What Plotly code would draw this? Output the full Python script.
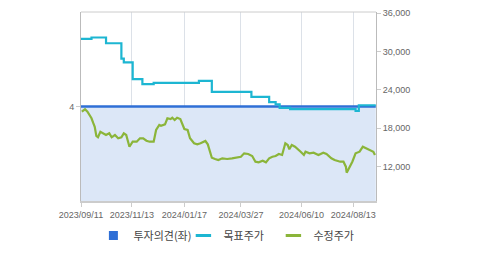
import plotly.graph_objects as go

# ---- data ----
opinion_dates = ["2023-09-11", "2024-09-10"]
opinion_values = [4, 4]

target_dates = ["2023-09-11", "2023-09-24", "2023-10-12", "2023-10-31", "2023-11-03",
                "2023-11-14", "2023-11-26", "2023-12-10", "2024-02-04", "2024-02-20",
                "2024-04-09", "2024-05-01", "2024-05-09", "2024-05-14", "2024-05-27",
                "2024-08-16", "2024-08-20", "2024-09-10"]
target_values = [32000, 32200, 31300, 28900, 28300,
                 25700, 24900, 25100, 25400, 23700,
                 22900, 22100, 21750, 21200, 21000,
                 20700, 21600, 21600]

price_dates = ["2023-09-12", "2023-09-16", "2023-09-19", "2023-09-24", "2023-09-26",
               "2023-09-28", "2023-09-30", "2023-10-02", "2023-10-05", "2023-10-08",
               "2023-10-12", "2023-10-16", "2023-10-19", "2023-10-23", "2023-10-27",
               "2023-10-31", "2023-11-03", "2023-11-06", "2023-11-08", "2023-11-10",
               "2023-11-14", "2023-11-19", "2023-11-23", "2023-11-27", "2023-12-01",
               "2023-12-05", "2023-12-10", "2023-12-13", "2023-12-17", "2023-12-19",
               "2023-12-24", "2023-12-27", "2023-12-31", "2024-01-02", "2024-01-05",
               "2024-01-08", "2024-01-12", "2024-01-14", "2024-01-17", "2024-01-21",
               "2024-01-24", "2024-01-29", "2024-02-02", "2024-02-06", "2024-02-12",
               "2024-02-15", "2024-02-18", "2024-02-20", "2024-02-24", "2024-02-28",
               "2024-03-04", "2024-03-10", "2024-03-16", "2024-03-22", "2024-03-27",
               "2024-03-31", "2024-04-05", "2024-04-10", "2024-04-14", "2024-04-18",
               "2024-04-23", "2024-04-27", "2024-05-01", "2024-05-05", "2024-05-09",
               "2024-05-13", "2024-05-17", "2024-05-21", "2024-05-24", "2024-05-26",
               "2024-05-29", "2024-06-02", "2024-06-05", "2024-06-09", "2024-06-13",
               "2024-06-15", "2024-06-20", "2024-06-25", "2024-07-01", "2024-07-07",
               "2024-07-11", "2024-07-17", "2024-07-21", "2024-07-28", "2024-08-01",
               "2024-08-04", "2024-08-05", "2024-08-08", "2024-08-12", "2024-08-16",
               "2024-08-21", "2024-08-25", "2024-08-29", "2024-09-03", "2024-09-07",
               "2024-09-09"]
price_values = [20590, 20970, 20590, 19560, 18870,
                18240, 16790, 16590, 17460, 17210,
                16940, 17210, 16590, 16940, 16430,
                16590, 17210, 16940, 16160, 15110,
                15900, 15900, 16430, 16430, 16050,
                15900, 15900, 17730, 18510, 18400,
                18620, 19560, 19450, 19650, 19290,
                19650, 19450, 18780, 17880, 17730,
                16430, 15650, 15490, 15650, 16010,
                15490, 14330, 13390, 13190, 13030,
                13300, 13190, 13300, 13390, 13550,
                14080, 13970, 13660, 12770, 12670,
                12920, 12670, 13300, 13550, 13660,
                13970, 13820, 15650, 15380, 14710,
                15380, 15110, 14710, 14330, 13820,
                14330, 14080, 14180, 13820, 14180,
                13970, 13300, 13030, 12770, 12770,
                11990, 11050, 11740, 12770, 14080,
                14330, 15110, 14860, 14490, 14330,
                13820]

tick_dates = ["2023-09-11", "2023-11-13", "2024-01-17", "2024-03-27", "2024-06-10", "2024-08-13"]
tick_labels = ["2023/09/11", "2023/11/13", "2024/01/17", "2024/03/27", "2024/06/10", "2024/08/13"]
right_ticks = [12000, 18000, 24000, 30000, 36000]
series_names = ["투자의견(좌)", "목표주가", "수정주가"]

BLUE = "#2F6FD6"
CYAN = "#1DB6D2"
GREEN = "#8BB53A"
FILL = "#DCE7F7"

fig = go.Figure()

fig.add_trace(go.Scatter(x=opinion_dates, y=opinion_values, mode="lines",
                         line=dict(color=BLUE, width=2.5), fill="tozeroy",
                         fillcolor=FILL, yaxis="y", showlegend=False,
                         hoverinfo="skip"))
fig.add_trace(go.Scatter(x=target_dates, y=target_values, mode="lines",
                         line=dict(color=CYAN, width=2.2, shape="hv"),
                         yaxis="y2", showlegend=False))
fig.add_trace(go.Scatter(x=price_dates, y=price_values, mode="lines",
                         line=dict(color=GREEN, width=2.2),
                         yaxis="y2", showlegend=False))

# legend entries
fig.add_trace(go.Scatter(x=[None], y=[None], mode="markers", name=series_names[0],
                         marker=dict(symbol="square", size=9, color=BLUE)))
fig.add_trace(go.Scatter(x=[None], y=[None], mode="markers", name=series_names[1],
                         marker=dict(symbol="line-ew", size=11,
                                     line=dict(color=CYAN, width=3))))
fig.add_trace(go.Scatter(x=[None], y=[None], mode="markers", name=series_names[2],
                         marker=dict(symbol="line-ew", size=11,
                                     line=dict(color=GREEN, width=3))))

fig.update_layout(
    width=479, height=254,
    margin=dict(l=81, r=103, t=12, b=53, autoexpand=False),
    paper_bgcolor="white", plot_bgcolor="white",
    font=dict(family="Liberation Sans, Noto Sans CJK KR", size=9, color="#666"),
    xaxis=dict(type="date", range=["2023-09-11", "2024-09-10 07:00"],
               tickvals=tick_dates, ticktext=tick_labels,
               showgrid=True, gridcolor="#DCE1E8", gridwidth=1,
               showline=True, linecolor="#CCCCCC", linewidth=2,
               ticks="outside", ticklen=4, tickcolor="#CCCCCC",
               tickfont=dict(size=9, color="#666"), zeroline=False),
    yaxis=dict(range=[0, 8], tickvals=[4], ticktext=["4"], showgrid=False,
               showline=True, linecolor="#BBBBBB", linewidth=1,
               ticks="outside", ticklen=4, tickcolor="#CCCCCC",
               tickfont=dict(size=9, color="#666"), zeroline=False, fixedrange=True),
    yaxis2=dict(range=[6620, 36190], overlaying="y", side="right",
                tickvals=right_ticks, tickformat=",d", showgrid=False,
                showline=True, linecolor="#BBBBBB", linewidth=1,
                ticks="outside", ticklen=4, tickcolor="#CCCCCC",
                tickfont=dict(size=9, color="#666"), zeroline=False),
    showlegend=True,
    legend=dict(orientation="h", xref="container", x=0.195, xanchor="left",
                yref="container", y=0.13, yanchor="top",
                entrywidthmode="pixels", entrywidth=45,
                font=dict(family="Noto Sans CJK KR", size=11, color="#444"),
                bgcolor="rgba(0,0,0,0)", borderwidth=0, tracegroupgap=0),
    shapes=[dict(type="line", xref="paper", yref="paper", x0=0, x1=1, y0=1, y1=1,
                 line=dict(color="#CCCCCC", width=1))],
)

fig.write_html("out.html")
